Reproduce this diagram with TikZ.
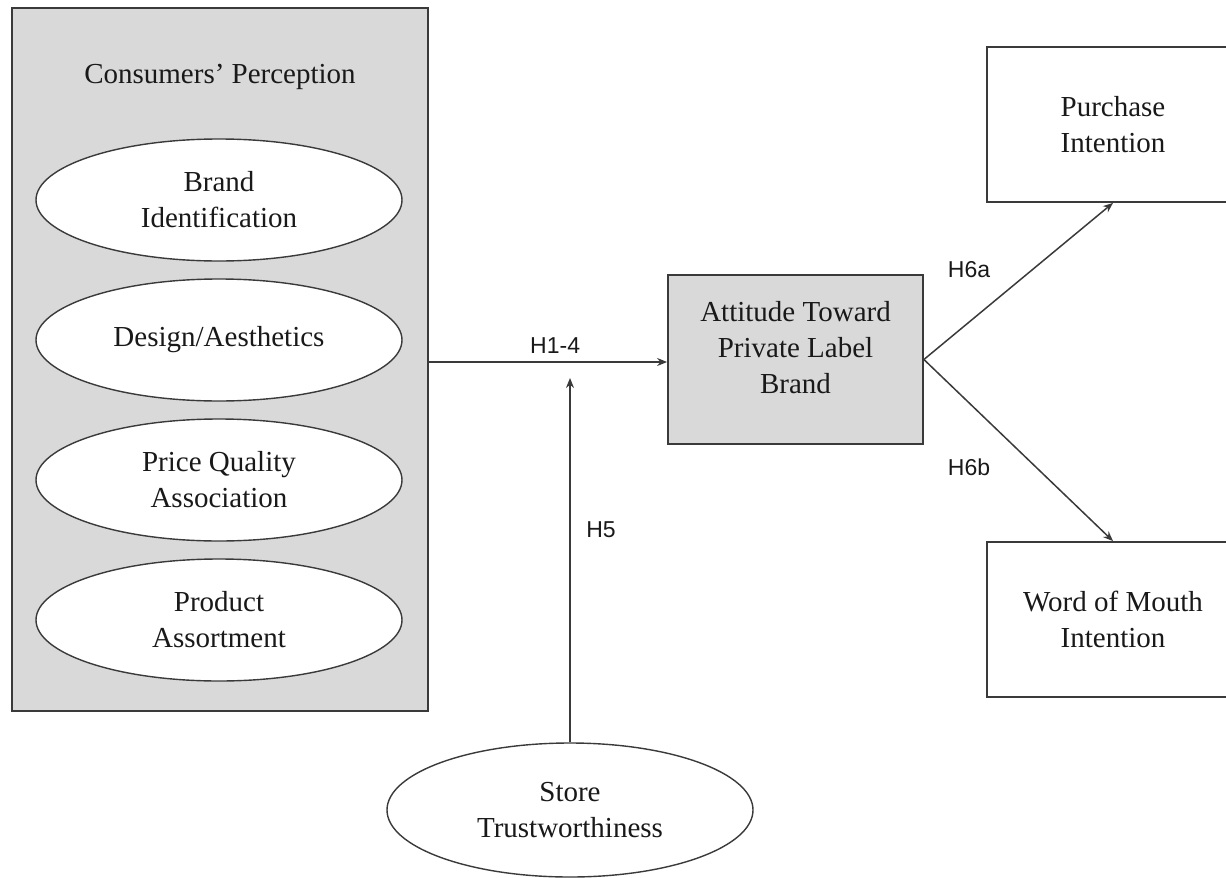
\documentclass[tikz,border=0pt]{standalone}
\usepackage{fontspec}
\setmainfont{Liberation Serif}
\newfontfamily\labelfont{Liberation Sans}
\usetikzlibrary{shapes.geometric,arrows.meta,calc}
\definecolor{boxgrey}{HTML}{D9D9D9}
\definecolor{linegrey}{HTML}{3A3A3A}
\begin{document}
\begin{tikzpicture}[x=1pt,y=-1pt,
  every node/.style={font=\fontsize{29}{36}\selectfont, text=black!90, align=center},
  outerbox/.style={draw=linegrey, line width=1.8pt, fill=boxgrey, minimum width=416pt, minimum height=703pt, inner sep=0pt},
  factor/.style={ellipse, draw=linegrey, line width=1.4pt, fill=white, minimum width=366pt, minimum height=122pt, inner sep=0pt},
  greybox/.style={draw=linegrey, line width=1.8pt, fill=boxgrey, minimum width=255pt, minimum height=169pt, inner sep=0pt},
  whitebox/.style={draw=linegrey, line width=1.8pt, fill=white, minimum width=252pt, minimum height=155pt, inner sep=0pt},
  hlabel/.style={font=\labelfont\fontsize{23}{27}\selectfont},
  conn/.style={draw=linegrey, line width=1.5pt, -{Stealth[length=10pt,width=8pt]}}
]
\useasboundingbox (0,0) rectangle (1226,878);
\node[outerbox] (cp) at (220,359.5) {};
\node (cptitle) at (220,77) {Consumers’ Perception};
\node[factor] (bi) at (219,200) {Brand\\Identification};
\node[factor] (da) at (219,340) {Design/Aesthetics};
\node[factor] (pq) at (219,480) {Price Quality\\Association};
\node[factor] (pa) at (219,620) {Product\\Assortment};

\node[greybox] (att) at (795.5,359.5) {};
\node (atttext) at (795.5,348) {Attitude Toward\\Private Label\\Brand};

\node[whitebox] (pi) at (1113,124.5) {Purchase\\Intention};
\node[whitebox] (wom) at (1113,619.5) {Word of Mouth\\Intention};

\node[factor, minimum height=134pt] (st) at (570,810) {Store\\Trustworthiness};

\coordinate (h5tip) at (570,378);

\draw[conn] ($(cp.east)+(0,2.5)$) -- ($(att.west)+(0,2.5)$) node[hlabel, pos=0.53, above=4pt] (h14) {H1-4};
\draw[conn] (st.north) -- (h5tip);
\node[hlabel] (h5) at (601,530) {H5};
\draw[conn] (att.east) -- (pi.south);
\draw[conn] (att.east) -- (wom.north);
\node[hlabel] (h6a) at (969,270) {H6a};
\node[hlabel] (h6b) at (969,467) {H6b};
\end{tikzpicture}
\end{document}
